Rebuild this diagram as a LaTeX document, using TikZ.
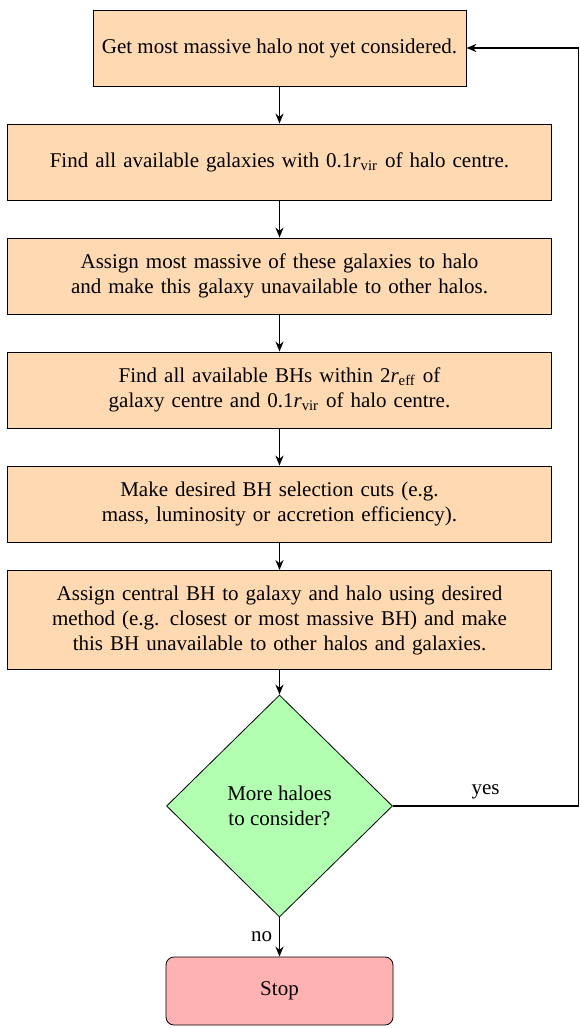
\documentclass[tikz,border=0pt]{standalone}
\usepackage{fontspec}
\setmainfont{Liberation Serif}
\usepackage{tikz}
\usetikzlibrary{
    shapes.geometric,
    arrows.meta,
    positioning,
    calc
}
\newcommand{\rvir}{\textit{r}\textsubscript{vir}}
\newcommand{\reff}{\textit{r}\textsubscript{eff}}
\tikzset{
    % Base style for the step boxes
    box base/.style={
        rectangle,
        draw=black,
        fill=orange!30,
        align=center,
        minimum height=38pt,
        inner xsep=4pt,
        inner ysep=7.5pt,
    },
    % First step - narrow box
    first step/.style={
        box base,
        minimum width=186.5pt,
    },
    % Process nodes - full width boxes
    process/.style={
        box base,
        text width=264pt,
    },
    % Decision diamond
    decision/.style={
        diamond,
        draw=black,
        fill=green!30,
        align=center,
        minimum width=113pt,
        minimum height=111pt,
        inner sep=0pt,
    },
    % Stop node
    startstop/.style={
        rectangle,
        rounded corners=4pt,
        draw=black,
        fill=red!30,
        minimum width=113.5pt,
        minimum height=34pt,
    },
    % Arrows
    arrow/.style={
        thick,
        -{Stealth[length=5pt, width=4pt]},
    },
}
\begin{document}
\begin{tikzpicture}[node distance=57pt, font=\fontsize{10.5pt}{12.5pt}\selectfont]
    \useasboundingbox (-139.75pt, 24pt) rectangle (149.75pt, -490pt);
    \node (get_halo) [first step] {Get most massive halo not yet considered.};
    \node (find_gal) [process, below of=get_halo] {Find all available galaxies with 0.1\rvir{} of halo centre.};
    \node (assign_gal) [process, below of=find_gal] {Assign most massive of these galaxies to halo\\ and make this galaxy unavailable to other halos.};
    \node (find_bh) [process, below of=assign_gal] {Find all available BHs within 2\reff{} of\\ galaxy centre and 0.1\rvir{} of halo centre.};
    \node (cut_bh) [process, below of=find_bh] {Make desired BH selection cuts (e.g.\\ mass, luminosity or accretion efficiency).};
    \node (assign_bh) [process, below of=cut_bh, yshift=-1pt] {Assign central BH to galaxy and halo using desired\\ method (e.g. closest or most massive BH) and make\\ this BH unavailable to other halos and galaxies.};
    \node (more) [decision, node distance=93pt, below of=assign_bh] {More haloes\\ to consider?};
    \node (stop) [startstop, node distance=92.5pt, below of=more] {Stop};
    \coordinate (right_edge) at (149.4pt, 0);

    \draw [arrow] (get_halo) -- (find_gal);
    \draw [arrow] (find_gal) -- (assign_gal);
    \draw [arrow] (assign_gal) -- (find_bh);
    \draw [arrow] (find_bh) -- (cut_bh);
    \draw [arrow] (cut_bh) -- (assign_bh);
    \draw [arrow] (assign_bh) -- (more);
    \draw [arrow] (more) -- node[anchor=east] {no} (stop);
    \draw [arrow] (more.east) -- node[above] {yes} (more.east -| right_edge) |- (get_halo.east);
\end{tikzpicture}
\end{document}
